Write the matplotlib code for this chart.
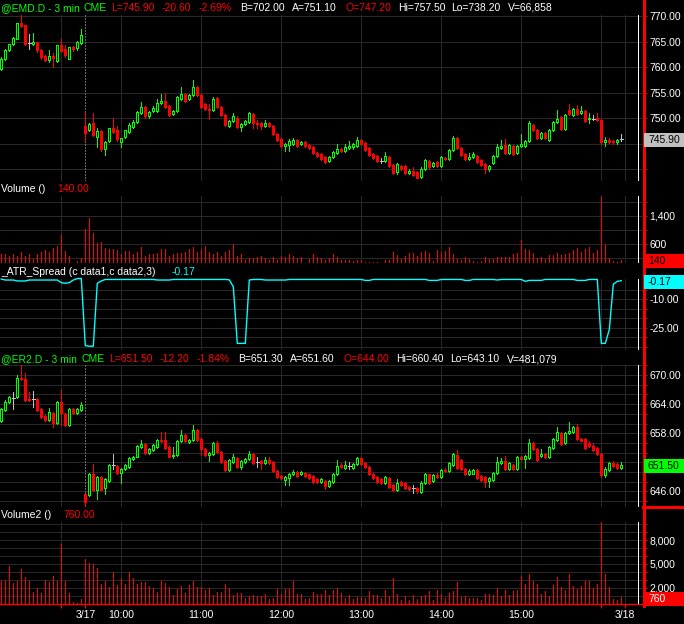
import numpy as np
import matplotlib
matplotlib.use('Agg')
import matplotlib.pyplot as plt
from matplotlib.lines import Line2D
from matplotlib.patches import Rectangle

plt.rcParams['font.family'] = ['Liberation Sans', 'DejaVu Sans']

# ---- data (21 bars of 3/16 close, then 135 bars of 3/17 session) ----
emd_open = [
    759.6, 761.6, 763.3, 764.5, 765.5, 768.6, 768.2, 764.8, 764.6, 764.9, 763.3,
    762.2, 761.4, 762.2, 761.2, 764.3, 763.5, 761.6, 763.9, 763.8, 764.8,
    748.4, 747.7, 749.0, 746.3, 747.4, 744.0, 745.4, 748.0, 747.6, 745.3,
    746.3, 747.3, 748.3, 749.2, 751.0, 752.1, 750.3, 751.3, 751.4, 752.9,
    753.3, 752.3, 750.7, 751.3, 753.7, 754.8, 753.7, 754.5, 756.0, 754.6,
    752.7, 751.8, 751.6, 754.0, 752.2, 750.6, 748.5, 749.4, 750.1, 748.3,
    748.8, 749.3, 750.8, 749.0, 749.0, 748.5, 749.1, 748.4, 746.9, 745.8,
    744.6, 744.8, 744.9, 745.6, 744.9, 745.2, 744.8, 744.4, 743.2, 743.0,
    742.4, 741.5, 742.4, 743.1, 744.0, 743.6, 744.1, 744.4, 744.6, 745.7,
    745.1, 744.1, 743.0, 742.5, 741.6, 741.5, 742.4, 740.7, 739.5, 740.6,
    740.5, 739.3, 739.7, 739.4, 738.4, 740.1, 741.6, 740.5, 741.3, 740.6,
    742.2, 741.9, 743.7, 746.1, 744.2, 742.9, 741.9, 742.4, 742.5, 741.8,
    741.0, 740.1, 741.1, 742.6, 744.2, 744.7, 743.1, 744.6, 743.1, 744.6,
    744.6, 745.4, 748.6, 747.7, 746.1, 747.0, 745.7, 747.7, 749.2, 750.2,
    747.8, 751.6, 750.6, 751.8, 750.9, 751.4, 749.9, 749.9, 750.0, 749.6,
    745.2, 745.7, 745.5, 745.2, 745.9,
]
emd_high = [
    761.9, 763.5, 764.6, 765.8, 768.7, 770.3, 768.3, 766.5, 766.6, 765.0, 763.5,
    762.3, 763.3, 762.7, 764.4, 765.4, 764.4, 764.0, 764.1, 765.1, 767.4,
    751.1, 749.0, 750.9, 748.0, 747.6, 745.5, 748.1, 750.1, 748.4, 746.1,
    747.7, 749.1, 749.6, 751.3, 753.1, 752.3, 751.4, 752.4, 753.7, 754.8,
    754.9, 752.5, 751.6, 754.3, 756.0, 755.0, 754.7, 757.5, 756.2, 754.8,
    752.9, 752.7, 754.1, 754.2, 752.4, 750.8, 749.7, 751.0, 750.3, 749.0,
    749.6, 751.1, 751.0, 749.7, 749.2, 749.7, 749.3, 748.6, 747.1, 746.0,
    745.1, 745.8, 746.1, 745.8, 745.5, 745.4, 745.0, 744.6, 743.4, 743.2,
    742.6, 742.6, 743.6, 744.9, 744.2, 745.0, 745.4, 745.1, 746.3, 745.9,
    745.3, 744.3, 743.2, 742.7, 742.1, 743.3, 742.6, 740.9, 741.2, 740.8,
    740.7, 740.0, 740.3, 739.6, 740.3, 742.0, 741.8, 741.4, 741.5, 742.6,
    742.4, 743.9, 746.5, 746.3, 744.4, 743.1, 743.1, 743.3, 742.7, 742.0,
    741.2, 740.8, 742.7, 744.9, 745.7, 745.9, 744.9, 744.8, 744.8, 746.8,
    745.6, 749.5, 748.8, 747.9, 747.2, 747.2, 747.9, 749.5, 751.6, 750.4,
    750.8, 752.7, 752.0, 752.6, 752.4, 751.6, 750.9, 750.5, 750.9, 749.8,
    746.3, 746.0, 745.7, 745.9, 746.8,
]
emd_low = [
    759.4, 761.4, 763.1, 764.3, 765.4, 767.9, 764.4, 763.5, 764.3, 763.0, 761.6,
    761.2, 761.0, 760.1, 761.0, 763.0, 762.0, 761.5, 763.2, 763.4, 764.6,
    745.4, 747.4, 746.5, 744.4, 743.6, 742.8, 745.2, 747.0, 745.5, 744.4,
    746.1, 747.1, 748.1, 749.0, 750.8, 750.1, 750.0, 751.1, 751.2, 752.7,
    752.0, 750.4, 750.5, 751.1, 753.5, 753.2, 753.5, 754.3, 754.3, 752.0,
    751.5, 749.9, 751.4, 752.0, 750.4, 748.5, 748.3, 749.2, 748.0, 747.5,
    748.6, 749.1, 748.1, 748.1, 747.8, 748.3, 748.2, 746.7, 745.4, 744.4,
    743.6, 743.5, 744.7, 744.4, 744.7, 744.4, 744.0, 742.9, 742.4, 741.8,
    741.2, 741.3, 742.2, 742.9, 743.4, 743.4, 743.9, 743.9, 744.4, 744.8,
    743.6, 742.5, 742.0, 741.3, 741.1, 741.3, 740.3, 739.0, 739.1, 739.9,
    739.0, 739.1, 738.6, 738.2, 738.2, 739.9, 740.1, 740.3, 740.3, 740.4,
    741.7, 741.7, 743.5, 744.0, 742.5, 741.7, 741.7, 742.2, 741.2, 740.6,
    739.3, 739.6, 740.9, 742.4, 744.0, 742.9, 742.9, 742.7, 742.9, 744.4,
    744.4, 745.2, 747.5, 745.9, 745.9, 745.8, 745.5, 747.5, 749.0, 747.6,
    747.6, 750.6, 750.4, 750.5, 750.7, 749.3, 749.1, 749.6, 749.4, 745.0,
    744.6, 745.1, 744.9, 745.0, 745.5,
]
emd_close = [
    761.5, 763.3, 764.5, 765.7, 768.6, 768.1, 764.6, 764.8, 765.0, 763.3, 762.0,
    761.4, 762.1, 761.7, 764.3, 763.1, 762.4, 763.9, 763.5, 765.0, 766.3,
    747.0, 748.8, 746.7, 747.5, 743.9, 745.3, 748.0, 747.3, 745.8, 746.0,
    747.6, 748.6, 749.2, 751.2, 752.1, 750.3, 751.2, 751.9, 752.9, 753.3,
    752.2, 750.6, 751.4, 754.2, 754.8, 753.4, 754.5, 756.0, 754.5, 752.2,
    751.7, 751.6, 753.8, 752.2, 750.6, 748.7, 749.5, 750.4, 748.2, 748.8,
    749.4, 750.9, 749.0, 748.9, 748.5, 749.0, 748.4, 746.9, 745.6, 744.6,
    744.9, 745.4, 745.7, 744.6, 745.3, 744.6, 744.2, 743.1, 742.6, 742.0,
    741.4, 742.4, 743.4, 743.9, 743.6, 744.4, 744.6, 744.9, 745.7, 745.0,
    743.8, 742.7, 742.2, 741.5, 741.6, 742.5, 740.5, 739.2, 741.0, 740.1,
    739.2, 739.7, 738.8, 738.2, 740.1, 741.8, 740.3, 741.2, 740.5, 742.4,
    741.9, 743.7, 746.0, 744.2, 742.7, 741.9, 742.4, 742.9, 741.4, 740.8,
    740.1, 740.6, 742.5, 744.4, 744.6, 743.1, 744.7, 742.9, 744.6, 745.0,
    745.4, 749.0, 747.7, 746.1, 747.0, 746.0, 747.7, 749.3, 749.9, 747.8,
    750.6, 750.8, 751.8, 750.7, 751.4, 749.5, 750.0, 749.9, 749.6, 745.2,
    745.7, 745.3, 745.2, 745.7, 745.9,
]
emd_volume = [
    305, 305, 248, 305, 248, 352, 248, 305, 152, 305, 352,
    419, 352, 467, 533, 848, 400, 248, 60, 114, 190,
    1009, 1323, 895, 629, 657, 486, 438, 438, 419, 305,
    400, 400, 305, 371, 514, 257, 305, 305, 324, 448,
    448, 248, 305, 324, 324, 371, 448, 514, 371, 448,
    533, 371, 305, 371, 248, 371, 419, 590, 248, 305,
    133, 181, 181, 229, 248, 181, 133, 229, 133, 248,
    229, 305, 248, 181, 210, 60, 162, 305, 210, 181,
    133, 181, 305, 210, 133, 133, 133, 114, 133, 133,
    86, 86, 86, 86, 60, 133, 133, 371, 276, 162,
    248, 343, 343, 248, 371, 390, 343, 95, 419, 371,
    400, 514, 305, 162, 133, 210, 152, 114, 86, 114,
    210, 152, 152, 229, 229, 210, 210, 305, 343, 705,
    438, 419, 343, 181, 210, 152, 276, 276, 343, 276,
    305, 343, 419, 467, 371, 438, 495, 343, 419, 1971,
    562, 181, 114, 86, 140,
]
atr_spread = [
    0.7, 0.2, 0.2, 0.2, -0.3, -0.3, -0.3, 0.2, 0.2, 0.2, 0.2,
    0.2, 0.2, 0.2, 0.2, -1.2, -1.5, -1.2, 0.2, 1.0, 1.0,
    -34.5, -34.8, -34.8, -1.5, -0.3, 0.5, 0.5, 0.5, 0.5, 0.5,
    0.5, 0.5, 0.5, 0.5, 0.5, 0.5, 0.5, 0.5, 0.2, 0.2,
    0.2, 0.2, 0.5, 0.5, 0.5, 0.5, 0.5, 0.5, 0.5, 0.5,
    0.5, 0.5, 0.5, 0.5, 0.5, 0.5, 0.3, -3.3, -33.3, -33.3,
    -33.3, 0.2, 0.5, 0.5, 0.5, 0.2, 0.2, 0.2, 0.2, 0.2,
    0.2, 0.5, 0.5, 0.5, 0.5, 0.5, 0.5, 0.5, 0.5, 0.5,
    0.5, 0.5, 0.5, 0.5, 0.5, 0.5, 0.5, 0.5, 0.5, 0.5,
    0.0, 0.0, 0.5, 0.5, 0.5, 0.5, 0.5, 0.5, 0.5, 0.5,
    0.5, 0.5, 0.5, 0.5, 0.5, 0.5, 0.0, 0.0, 0.0, 0.5,
    0.5, 0.5, 0.5, 0.5, 0.5, 0.0, 0.0, 0.5, 0.5, 0.5,
    0.5, 0.5, 0.5, 0.2, 0.5, 0.5, 0.5, 0.5, 0.5, 0.5,
    -0.5, 0.0, 0.0, 0.0, 0.0, 0.5, 0.5, 0.5, 0.5, 0.5,
    0.5, 0.5, 0.5, 0.0, 0.0, 0.0, 0.5, 0.5, 0.5, -33.3,
    -33.3, -26.0, -2.0, -0.5, -0.17,
]
er2_open = [
    660.5, 662.8, 664.5, 665.3, 665.5, 669.4, 669.1, 665.1, 665.0, 665.0, 662.9,
    661.5, 660.7, 662.1, 660.2, 664.5, 662.0, 659.6, 662.9, 662.2, 662.8,
    645.4, 645.3, 649.6, 646.3, 649.0, 646.8, 648.1, 651.4, 651.3, 649.9,
    650.7, 651.1, 652.7, 653.2, 655.2, 655.8, 654.0, 654.5, 655.2, 656.7,
    656.6, 655.1, 653.3, 653.5, 656.3, 657.6, 656.1, 656.7, 658.7, 656.9,
    654.7, 653.6, 653.7, 655.9, 654.1, 652.3, 650.4, 652.0, 652.8, 651.1,
    652.1, 652.6, 653.8, 652.0, 652.2, 651.8, 652.5, 652.0, 650.3, 649.2,
    648.4, 648.7, 649.5, 650.0, 649.5, 649.9, 649.5, 649.2, 648.6, 647.9,
    648.2, 647.1, 648.0, 649.6, 651.4, 650.8, 651.3, 650.9, 651.6, 652.8,
    651.9, 651.0, 649.7, 649.0, 648.5, 647.8, 648.8, 647.3, 646.3, 648.0,
    647.8, 646.9, 646.8, 646.8, 645.9, 647.8, 649.5, 648.2, 649.3, 649.0,
    650.5, 650.2, 651.4, 653.5, 652.5, 650.6, 649.6, 649.7, 650.4, 649.2,
    649.0, 648.1, 648.3, 649.9, 651.9, 652.3, 650.6, 651.4, 650.6, 653.2,
    652.6, 652.8, 656.0, 654.8, 653.4, 653.8, 653.0, 655.0, 656.7, 658.0,
    655.9, 658.0, 658.3, 659.2, 656.9, 656.9, 655.9, 655.4, 654.9, 653.7,
    649.4, 650.4, 651.8, 651.6, 650.8,
]
er2_high = [
    663.1, 664.8, 665.7, 666.4, 670.0, 672.1, 670.5, 666.4, 666.7, 665.2, 663.1,
    661.7, 663.3, 662.3, 664.6, 667.0, 662.2, 663.1, 663.1, 663.2, 664.4,
    645.6, 649.8, 651.6, 649.2, 649.2, 648.8, 651.6, 653.8, 651.5, 650.8,
    651.6, 653.0, 653.4, 655.6, 656.7, 656.0, 654.9, 655.8, 656.9, 658.3,
    658.3, 655.3, 655.2, 656.7, 658.7, 657.8, 656.9, 659.7, 658.9, 657.1,
    654.9, 654.1, 656.1, 656.3, 654.3, 652.5, 652.7, 653.8, 653.0, 652.5,
    652.9, 654.3, 654.0, 653.2, 652.4, 653.0, 653.0, 652.2, 650.5, 649.4,
    649.2, 649.8, 650.5, 650.2, 650.3, 650.1, 649.7, 649.4, 648.8, 648.8,
    648.4, 648.4, 649.9, 652.5, 651.9, 652.3, 652.0, 651.8, 653.0, 653.0,
    652.1, 651.2, 649.9, 649.2, 648.7, 649.1, 649.0, 647.5, 648.5, 648.2,
    648.0, 647.1, 647.3, 647.0, 648.2, 649.9, 649.7, 649.5, 649.8, 650.7,
    650.8, 652.1, 653.9, 654.5, 652.7, 650.8, 650.6, 650.6, 650.6, 649.4,
    649.2, 648.9, 650.1, 653.0, 652.9, 653.3, 652.0, 651.6, 653.4, 653.4,
    653.5, 656.9, 656.2, 655.0, 654.7, 654.0, 655.4, 657.1, 659.3, 658.2,
    658.2, 660.4, 659.4, 659.9, 657.1, 657.1, 656.3, 655.9, 655.1, 653.9,
    651.1, 652.0, 652.3, 651.8, 652.0,
]
er2_low = [
    660.3, 662.6, 664.3, 663.0, 665.3, 668.9, 664.6, 664.7, 663.5, 662.6, 661.2,
    660.5, 660.5, 659.3, 660.0, 659.7, 659.4, 659.4, 661.9, 662.0, 662.6,
    643.1, 645.1, 646.1, 644.4, 646.2, 645.5, 647.9, 650.6, 649.7, 647.8,
    650.5, 650.9, 652.5, 653.0, 655.0, 653.8, 653.8, 654.3, 655.0, 656.2,
    654.8, 653.0, 652.9, 653.3, 656.1, 656.1, 655.9, 656.5, 656.5, 653.6,
    653.4, 652.3, 653.5, 653.9, 651.9, 650.2, 650.2, 651.8, 650.9, 650.6,
    651.9, 652.4, 651.7, 651.0, 650.6, 651.6, 651.6, 650.1, 648.8, 648.5,
    647.3, 647.4, 649.3, 649.0, 649.3, 649.0, 648.5, 647.8, 647.8, 647.7,
    646.6, 646.9, 647.8, 649.4, 650.8, 650.6, 650.6, 650.7, 651.4, 651.4,
    650.8, 649.4, 648.5, 647.8, 647.6, 647.6, 646.8, 646.0, 646.1, 647.1,
    646.6, 646.4, 645.6, 645.6, 645.7, 647.6, 647.6, 648.0, 648.7, 648.8,
    650.0, 650.0, 651.2, 650.6, 650.4, 649.4, 649.4, 649.5, 648.6, 648.2,
    647.0, 647.0, 648.1, 649.7, 651.7, 650.4, 650.4, 650.4, 650.4, 652.4,
    650.8, 652.6, 654.5, 652.3, 653.2, 652.8, 652.8, 654.8, 656.5, 655.5,
    655.7, 657.8, 658.1, 656.7, 656.3, 654.8, 655.2, 654.3, 653.5, 649.0,
    649.0, 650.2, 651.1, 650.6, 650.6,
]
er2_close = [
    662.9, 664.5, 665.5, 665.3, 669.4, 669.1, 664.8, 664.9, 665.0, 662.8, 661.4,
    660.7, 662.3, 660.2, 664.4, 662.1, 659.6, 662.9, 662.1, 663.0, 663.8,
    643.9, 649.6, 646.3, 649.0, 646.4, 648.6, 651.4, 651.4, 649.9, 650.6,
    651.4, 652.8, 653.2, 655.4, 655.8, 654.0, 654.7, 655.6, 656.7, 656.4,
    655.0, 653.2, 653.6, 656.5, 657.6, 656.3, 656.7, 658.7, 656.7, 654.8,
    653.6, 653.9, 655.9, 654.1, 652.1, 650.4, 652.5, 653.0, 651.1, 652.3,
    652.7, 653.8, 651.9, 652.0, 651.8, 652.5, 651.8, 650.3, 649.0, 648.7,
    649.0, 649.6, 650.0, 649.2, 650.0, 649.2, 648.7, 648.0, 648.0, 648.6,
    647.1, 648.2, 649.7, 651.2, 651.0, 651.4, 651.3, 651.6, 652.8, 651.6,
    651.0, 649.6, 648.7, 648.0, 647.8, 648.9, 647.0, 646.2, 647.8, 647.3,
    646.8, 646.6, 646.8, 646.0, 647.7, 649.7, 647.8, 649.3, 648.9, 650.5,
    650.2, 651.9, 653.7, 650.8, 650.6, 649.6, 650.2, 650.4, 648.8, 648.4,
    648.0, 648.7, 649.9, 652.1, 652.3, 650.6, 651.8, 650.6, 653.2, 652.6,
    653.3, 656.0, 654.7, 652.5, 653.8, 653.0, 655.2, 656.9, 658.3, 655.7,
    658.0, 658.5, 659.2, 656.9, 656.5, 655.0, 655.4, 654.5, 653.7, 649.4,
    650.6, 651.8, 651.3, 650.8, 651.5,
]
er2_volume = [
    2856, 2982, 4746, 2562, 2856, 4410, 3360, 2856, 1470, 2016, 1302,
    2982, 2730, 3486, 2856, 7560, 2856, 1386, 210, 80, 630,
    5670, 5082, 5040, 4536, 2520, 2856, 2100, 4032, 2352, 3276,
    2436, 3990, 3234, 2436, 2730, 2730, 2226, 2016, 1470, 2856,
    2562, 2100, 1092, 1890, 2226, 1302, 2352, 2856, 2142, 2142,
    1722, 2016, 1092, 1470, 1470, 2436, 2016, 1050, 1302, 1302,
    756, 966, 1050, 966, 966, 1176, 630, 756, 1890, 1176,
    1890, 1890, 2814, 1176, 1176, 630, 756, 1470, 1176, 1176,
    1722, 1050, 1680, 2016, 1300, 756, 1092, 630, 840, 840,
    756, 1554, 1092, 1092, 756, 1722, 966, 3276, 1176, 462,
    966, 462, 1092, 630, 966, 1092, 1596, 462, 1722, 1176,
    756, 1386, 1596, 2730, 840, 966, 672, 672, 756, 462,
    1176, 1176, 1092, 2016, 966, 1722, 1092, 1596, 1722, 3486,
    2436, 3696, 2856, 2436, 1176, 1596, 966, 2352, 3360, 2100,
    1722, 3696, 2226, 1890, 2226, 2856, 2856, 2016, 2478, 10300,
    3696, 2100, 546, 462, 760,
]

time_ticks = [21, 30, 50, 70, 90, 110, 130, 156]
time_labels = ['3/17', '10:00', '11:00', '12:00', '13:00', '14:00', '15:00', '3/18']
session_ticks = [15, 21, 150, 156]
grid_times = [15, 30, 50, 70, 90, 110, 130, 150, 156]

emd_header = [(1, '@EMD.D - 3 min', 'g'), (84, 'CME', 'g'), (111, 'L=745.90', 'r'),
              (162, '-20.60', 'r'), (199, '-2.69%', 'r'), (240, 'B=702.00', 'w'),
              (292, 'A=751.10', 'w'), (345, 'O=747.20', 'r'), (398, 'Hi=757.50', 'w'),
              (451, 'Lo=738.20', 'w'), (508, 'V=66,858', 'w')]
er2_header = [(1, '@ER2.D - 3 min', 'g'), (82, 'CME', 'g'), (109, 'L=651.50', 'r'),
              (160, '-12.20', 'r'), (197, '-1.84%', 'r'), (238, 'B=651.30', 'w'),
              (290, 'A=651.60', 'w'), (343, 'O=644.00', 'r'), (396, 'Hi=660.40', 'w'),
              (450, 'Lo=643.10', 'w'), (507, 'V=481,079', 'w')]

GREEN = '#00ff00'
RED = '#ff0000'
GREY = '#c0c0c0'
CYAN = '#00ffff'
GRID = '#282828'
COLORS = {'g': GREEN, 'r': RED, 'w': 'white', 'c': CYAN}
FS = 7.5
LW = 0.72  # one pixel at 100 dpi
W, H = 684, 624
AXR = 643  # right edge of plotting area, px

fig = plt.figure(figsize=(W / 100, H / 100), dpi=100, facecolor='black')


def panel(top, bottom, ylim):
    ax = fig.add_axes([0, 1 - bottom / H, AXR / W, (bottom - top) / H], facecolor='black')
    ax.set_xlim(-0.325, 160.425)
    ax.set_ylim(*ylim)
    for s in ax.spines.values():
        s.set_visible(False)
    ax.set_xticks([])
    ax.yaxis.tick_right()
    ax.tick_params(axis='y', which='both', direction='out', length=3, width=LW,
                   color=RED, labelcolor='white', labelsize=FS, pad=1.5)
    for t in grid_times:
        ax.axvline(t, color=GRID, lw=LW, zorder=0.5, antialiased=False)
    ax.axvline(159.1, color='white', lw=LW, zorder=4, antialiased=False)
    return ax


def y_ticks(ax, major, labels, minor, grid):
    ax.set_yticks(major)
    ax.set_yticklabels(labels)
    ax.set_yticks(minor, minor=True)
    for g in grid:
        ax.axhline(g, color=GRID, lw=LW, zorder=0.5, antialiased=False)


def candles(ax, o, h, l, c):
    o, h, l, c = map(np.asarray, (o, h, l, c))
    x = np.arange(len(o))
    up, dn, eq = c > o, c < o, c == o
    cols = np.where(up, GREEN, np.where(dn, RED, GREY))
    ax.axvline(21, color='#6a6a6a', lw=LW, ls=(0, (2, 2)), zorder=1, antialiased=False)
    ax.vlines(x, l, h, colors=cols, lw=LW, zorder=2, antialiased=False)
    ax.bar(x[up], (c - o)[up], bottom=o[up], width=0.5, facecolor='black',
           edgecolor=GREEN, lw=LW, zorder=3, antialiased=False)
    ax.bar(x[dn], (o - c)[dn], bottom=c[dn], width=0.5, facecolor=RED,
           edgecolor=RED, lw=LW, zorder=3, antialiased=False)
    ax.hlines(c[eq], x[eq] - 0.35, x[eq] + 0.35, colors=GREY, lw=LW, zorder=3,
              antialiased=False)


def volume_bars(ax, vol):
    # one-pixel-wide filled bars from the zero line
    ax.bar(np.arange(len(vol)), vol, width=0.25, color=RED, linewidth=0,
           zorder=2, antialiased=False)


def value_box(ax, value, label, fc, tc):
    y = ax.transData.transform((0, value))[1] - 1.5
    fig.add_artist(Rectangle((AXR + 0.5, y - 7), W - AXR, 14, transform=None,
                             facecolor=fc, edgecolor='none', zorder=5))
    fig.text(648 / W, y / H, label, color=tc, fontsize=FS, va='center', ha='left', zorder=6)


def header(y, parts):
    for x, s, c in parts:
        fig.text(x / W, 1 - y / H, s, color=COLORS[c], fontsize=FS, va='center', ha='left')


# EMD price
ax1 = panel(15, 181, (737.65, 770.2))
candles(ax1, emd_open, emd_high, emd_low, emd_close)
y_ticks(ax1, [750, 755, 760, 765, 770], ['750.00', '755.00', '760.00', '765.00', '770.00'],
        [740, 745], [740, 745, 750, 755, 760, 765, 770])
header(8, emd_header)

# Volume
ax2 = panel(196, 263, (49, 1963))
volume_bars(ax2, emd_volume)
y_ticks(ax2, [600, 1400], ['600', '1,400'], [200, 1000, 1800], [200, 600, 1000, 1400, 1800])
header(189, [(1, 'Volume ()', 'w'), (57, '140.00', 'r')])

# ATR spread
ax3 = panel(279, 350, (-36.8, 0.74))
ax3.plot(np.arange(len(atr_spread)), atr_spread, color=CYAN, lw=1.0, zorder=3, clip_on=False)
y_ticks(ax3, [-10, -25], ['-10.00', '-25.00'], [-5, -15, -20, -30, -35],
        [-5, -10, -15, -20, -25, -30, -35])
header(272, [(1, '_ATR_Spread (c data1,c data2,3)', 'w'), (172, '-0.17', 'c')])

# ER2 price
ax4 = panel(365, 507, (642.8, 672.06))
candles(ax4, er2_open, er2_high, er2_low, er2_close)
er2_grid = list(range(644, 673, 2))
y_ticks(ax4, [646, 658, 664, 670], ['646.00', '658.00', '664.00', '670.00'],
        [g for g in er2_grid if g not in (646, 658, 664, 670)], er2_grid)
header(359, er2_header)

# Volume2
ax5 = panel(522, 603.5, (0, 10282))
volume_bars(ax5, er2_volume)
v2_grid = list(range(1000, 10001, 1000))
y_ticks(ax5, [2000, 5000, 8000], ['2,000', '5,000', '8,000'],
        [g for g in v2_grid if g not in (2000, 5000, 8000)], v2_grid)
header(515, [(1, 'Volume2 ()', 'w'), (63, '760.00', 'r')])
ax5.spines['bottom'].set_visible(True)
ax5.spines['bottom'].set_color(RED)
ax5.spines['bottom'].set_linewidth(1)
ax5.xaxis.remove_overlapping_locs = False
ax5.set_xticks(time_ticks)
ax5.set_xticklabels(time_labels)
ax5.set_xticks(session_ticks, minor=True)
ax5.tick_params(axis='x', which='major', length=0, pad=5, labelcolor='white', labelsize=FS)
ax5.tick_params(axis='x', which='minor', length=3, width=LW, color=RED, direction='out')

# right-hand scale line and separators
fig.add_artist(Line2D([AXR + 0.5, AXR + 0.5], [H - 606, H], transform=None, color=RED,
                      lw=1, antialiased=False))
fig.add_artist(Line2D([AXR, W], [H - 507, H - 507], transform=None, color=RED, lw=1,
                      antialiased=False))

value_box(ax1, emd_close[-1], f'{emd_close[-1]:.2f}', GREY, 'black')
value_box(ax2, emd_volume[-1], f'{emd_volume[-1]}', RED, 'black')
value_box(ax3, atr_spread[-1], f'{atr_spread[-1]:.2f}', CYAN, 'black')
value_box(ax4, er2_close[-1], f'{er2_close[-1]:.2f}', GREEN, 'black')
value_box(ax5, er2_volume[-1], f'{er2_volume[-1]}', RED, 'white')

fig.savefig('out.png', dpi=100, facecolor='black')
